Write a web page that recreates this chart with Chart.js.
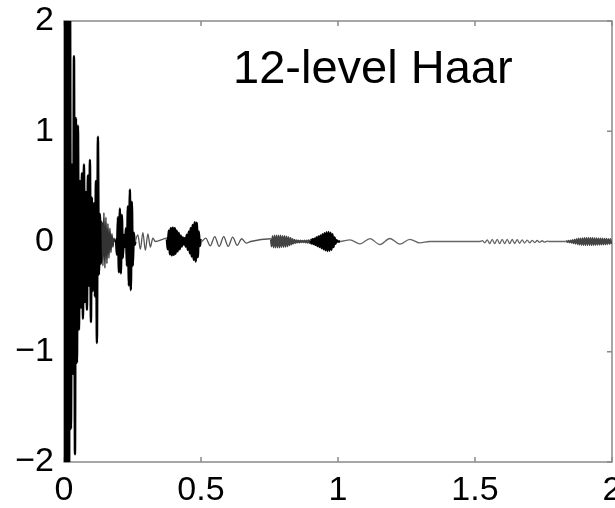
<!DOCTYPE html>
<html>
<head>
<meta charset="utf-8">
<script src="https://cdn.jsdelivr.net/npm/chart.js@4.4.1/dist/chart.umd.min.js"></script>
<style>
  html, body { margin: 0; padding: 0; background: #fff; }
  canvas { display: block; }
</style>
</head>
<body>
<canvas id="haarChart" width="615" height="508"></canvas>
<script>
// signal, in pieces; each piece starts at pieceStart
// and its samples are pieceStep apart (time axis 0..2)
const pieceStart = [0.0000, 0.1384, 0.1894, 0.2605, 0.3752, 0.5009, 0.7541, 0.8998, 1.0073, 1.5173, 1.8306];
const pieceStep  = [0.00364, 0.00364, 0.00364, 0.00911, 0.00364, 0.0164, 0.00364, 0.00364, 0.0364, 0.00911, 0.00364];
const pieceValues = [
  [2.6, -2.6, 2.6, -2.6, 2.6, -2.6, 2.4, -1.7, 0.7, -1.2, 1.68, -1.93, 1.12, -1.1, 1.05, -0.8, 0.55, -0.6, 0.62, -0.7,
   0.7, -0.55, 0.45, -0.62, 0.6, -0.4, 0.74, -0.73, 0.4, -0.45, 0.35, -0.5, 0.55, -0.92, 0.95, -0.3, 0.25, -0.2],
  [0.18, -0.22, 0.26, -0.24, 0.22, -0.2, 0.16, -0.15, 0.12, -0.1, 0.07, -0.05, 0.03, 0],
  [0.02, -0.12, 0.22, -0.28, 0.30, -0.29, 0.24, -0.15, 0.06, -0.05, 0.12, -0.22, 0.32, -0.40, 0.47, -0.44, 0.36, -0.22, 0.08, -0.03],
  [0, 0.06, -0.07, 0.08, -0.08, 0.07, -0.05, 0.03, 0],
  [0.03, -0.07, 0.10, -0.115, 0.12, -0.125, 0.125, -0.12, 0.12, -0.11, 0.10, -0.09, 0.08, -0.07, 0.055, -0.045, 0.035, -0.025,
   0.03, -0.045, 0.06, -0.075, 0.09, -0.105, 0.12, -0.135, 0.15, -0.165, 0.175, -0.18, 0.17, -0.14, 0.09, -0.04, 0.01],
  [0, 0.03, -0.04, 0.045, -0.045, 0.045, -0.045, 0.04, -0.035, 0.025, -0.015, 0],
  [0.025, -0.045, 0.05, -0.055, 0.055, -0.055, 0.055, -0.055, 0.055, -0.055, 0.055, -0.05, 0.05, -0.05, 0.05, -0.048, 0.046, -0.044,
   0.04, -0.036, 0.032, -0.028, 0.024, -0.02, 0.017, -0.015, 0.013, -0.011, 0.01, -0.009, 0.009, -0.008, 0.008, -0.008, 0.009, -0.01,
   0.011, -0.012, 0.013, -0.014],
  [0.015, -0.018, 0.02, -0.022, 0.025, -0.03, 0.035, -0.04, 0.045, -0.05, 0.055, -0.06, 0.065, -0.07, 0.075, -0.08, 0.083, -0.085,
   0.085, -0.083, 0.08, -0.075, 0.065, -0.05, 0.035, -0.02, 0.01, 0],
  [0, 0.015, -0.022, 0.026, -0.028, 0.027, -0.024, 0.02, -0.012, 0],
  [0, 0.008, -0.012, 0.015, -0.018, 0.02, -0.02, 0.02, -0.02, 0.02, -0.02, 0.02, -0.02, 0.019, -0.018, 0.017, -0.016, 0.015,
   -0.014, 0.013, -0.012, 0.011, -0.01, 0.009, -0.008, 0.007, -0.006, 0.004, 0],
  [0, 0.004, -0.006, 0.008, -0.01, 0.012, -0.014, 0.016, -0.018, 0.02, -0.022, 0.024, -0.026, 0.028, -0.03, 0.03, -0.032, 0.032,
   -0.033, 0.033, -0.034, 0.034, -0.034, 0.034, -0.034, 0.034, -0.034, 0.033, -0.033, 0.032, -0.032, 0.031, -0.031, 0.03, -0.03,
   0.029, -0.029, 0.028, -0.028, 0.027, -0.027, 0.026, -0.026, 0.025, -0.025, 0.024, -0.024]
];
const xTicks = [0, 0.5, 1, 1.5, 2];
const yTicks = [-2, -1, 0, 1, 2];
const titleText = '12-level Haar';

// styles
const pieceColor = ['#000', '#333', '#000', '#555', '#000', '#555', '#444', '#000', '#666', '#666', '#444'];
const pieceWidth = [2.4, 1.6, 2.4, 1.3, 2.6, 1.3, 1.8, 2.6, 1.3, 1.3, 1.6];
const titleAt = [0.617, 1.44];
const fontFamily = '"Liberation Sans", Arial, Helvetica, sans-serif';

const points = [];
const pointPiece = [];
pieceValues.forEach((vals, i) => {
  vals.forEach((v, k) => {
    points.push({ x: pieceStart[i] + k * pieceStep[i], y: v });
    pointPiece.push(i);
  });
});

// box, inward ticks and the title inside the plot
const frame = {
  id: 'frame',
  beforeDatasetsDraw(chart) {
    const { ctx, chartArea: a, scales: { x, y } } = chart;
    ctx.save();
    ctx.strokeStyle = '#8a8a8a';
    ctx.lineWidth = 1.5;
    ctx.strokeRect(a.left, a.top, a.right - a.left, a.bottom - a.top);
    ctx.beginPath();
    xTicks.forEach(t => {
      const px = x.getPixelForValue(t);
      ctx.moveTo(px, a.bottom); ctx.lineTo(px, a.bottom - 5);
      ctx.moveTo(px, a.top); ctx.lineTo(px, a.top + 5);
    });
    yTicks.forEach(t => {
      const py = y.getPixelForValue(t);
      ctx.moveTo(a.left, py); ctx.lineTo(a.left + 5, py);
      ctx.moveTo(a.right, py); ctx.lineTo(a.right - 5, py);
    });
    ctx.stroke();
    ctx.restore();
  },
  afterDatasetsDraw(chart) {
    const { ctx, scales: { x, y } } = chart;
    ctx.save();
    ctx.fillStyle = '#000';
    ctx.font = '47px ' + fontFamily;
    ctx.textBaseline = 'alphabetic';
    ctx.fillText(titleText, x.getPixelForValue(titleAt[0]), y.getPixelForValue(titleAt[1]));
    ctx.restore();
  }
};

const ctx = document.getElementById('haarChart').getContext('2d');
new Chart(ctx, {
  type: 'line',
  data: {
    datasets: [{
      data: points,
      borderColor: '#000',
      borderWidth: 1,
      pointRadius: 0,
      cubicInterpolationMode: 'monotone',
      segment: {
        borderColor: c => pieceColor[pointPiece[c.p0DataIndex]],
        borderWidth: c => pieceWidth[pointPiece[c.p0DataIndex]]
      }
    }]
  },
  options: {
    responsive: false,
    animation: false,
    devicePixelRatio: 1,
    layout: { padding: { top: 21, right: 3, left: 0, bottom: 0 } },
    plugins: { legend: { display: false }, tooltip: { enabled: false } },
    scales: {
      x: {
        type: 'linear',
        min: 0,
        max: 2,
        grid: { display: false },
        border: { display: false },
        afterBuildTicks: s => { s.ticks = xTicks.map(v => ({ value: v })); },
        ticks: {
          autoSkip: false,
          maxRotation: 0,
          padding: 0,
          color: '#000',
          font: { family: fontFamily, size: 34 },
          callback: v => String(v)
        },
        afterFit: s => { s.height = 46; s.paddingLeft = 0; s.paddingRight = 0; }
      },
      y: {
        min: -2,
        max: 2,
        grid: { display: false },
        border: { display: false },
        afterBuildTicks: s => { s.ticks = yTicks.map(v => ({ value: v })); },
        ticks: {
          padding: 2,
          color: '#000',
          font: { family: fontFamily, size: 34 },
          callback: v => (v < 0 ? '\u2212' + (-v) : String(v))
        },
        afterFit: s => { s.width = 64; s.paddingTop = 0; s.paddingBottom = 0; }
      }
    }
  },
  plugins: [frame]
});
</script>
</body>
</html>
